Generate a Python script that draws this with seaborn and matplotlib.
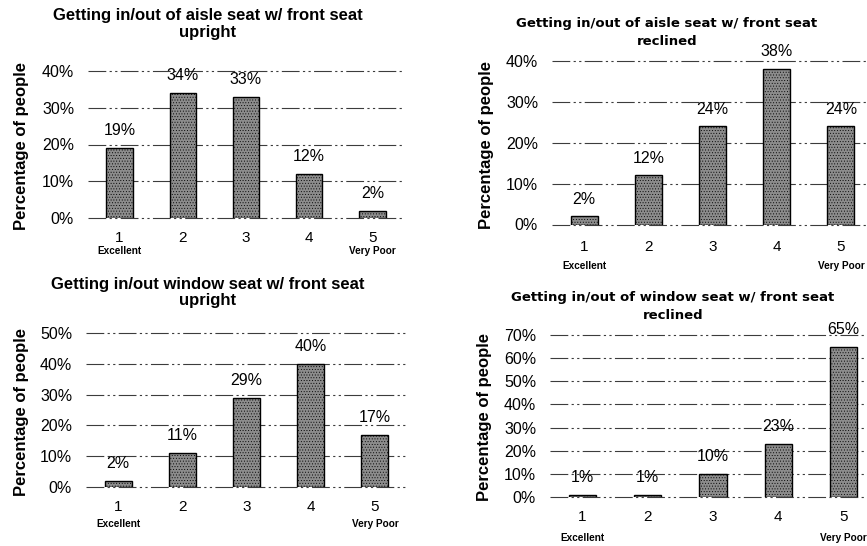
import matplotlib
matplotlib.use("Agg")
import matplotlib.pyplot as plt
import pandas as pd
import seaborn as sns

# Survey ratings: 1 = Excellent ... 5 = Very Poor
categories = ["1", "2", "3", "4", "5"]
aisle_upright = [19, 34, 33, 12, 2]
aisle_reclined = [2, 12, 24, 38, 24]
window_upright = [2, 11, 29, 40, 17]
window_reclined = [1, 1, 10, 23, 65]

sns.set_theme(style="white")
plt.rcParams["font.family"] = ["Liberation Sans", "DejaVu Sans"]
plt.rcParams["hatch.linewidth"] = 0.35
for key in ("text.color", "axes.labelcolor", "xtick.color", "ytick.color"):
    plt.rcParams[key] = "black"

W, H = 867, 546
fig = plt.figure(figsize=(W / 100, H / 100), dpi=100)


def px_rect(left, right, top, bottom):
    return [left / W, 1 - bottom / H, (right - left) / W, (bottom - top) / H]


panels = [
    dict(values=aisle_upright, ymax=40, rect=(88, 404, 71, 218),
         title=["Getting in/out of aisle seat w/ front seat", "upright"],
         title_xy=(208, 20, 37), title_font=dict(family="Liberation Sans", size=12),
         ylab_xy=(22, 146), xpad=20, note_off=33),
    dict(values=aisle_reclined, ymax=40, rect=(552, 873, 61, 224.5),
         title=["Getting in/out of aisle seat w/ front seat", "reclined"],
         title_xy=(667, 27, 45), title_font=dict(family="DejaVu Sans", size=9.5),
         ylab_xy=(486, 145), xpad=22.5, note_off=41.5),
    dict(values=window_upright, ymax=50, rect=(86, 407, 333, 487),
         title=["Getting in/out window seat w/ front seat", "upright"],
         title_xy=(208, 289, 305), title_font=dict(family="Liberation Sans", size=12),
         ylab_xy=(22, 412), xpad=20, note_off=37),
    dict(values=window_reclined, ymax=70, rect=(550, 876, 335, 497),
         title=["Getting in/out of window seat w/ front seat", "reclined"],
         title_xy=(673, 301, 319), title_font=dict(family="DejaVu Sans", size=9.5),
         ylab_xy=(485, 417), xpad=20, note_off=41),
]

for p in panels:
    ax = fig.add_axes(px_rect(*p["rect"]))
    df = pd.DataFrame({"rating": categories, "pct": p["values"]})
    sns.barplot(data=df, x="rating", y="pct", ax=ax, color="#8c8c8c",
                saturation=1, width=0.42, edgecolor="black", linewidth=1.0,
                hatch="......", zorder=3, errorbar=None)
    ax.set_xlim(-0.5, 4.5)
    ax.set_ylim(0, p["ymax"])
    ticks = list(range(0, p["ymax"] + 1, 10))
    ax.set_yticks(ticks)
    ax.set_yticklabels([f"{t}%" for t in ticks])
    ax.yaxis.grid(True, color="#3c3c3c", linewidth=0.8,
                  linestyle=(0, (16, 3, 2, 3, 2, 3)))
    ax.xaxis.grid(False)
    ax.set_axisbelow(True)
    for gl in ax.get_ygridlines():
        gl.set_clip_on(False)
    for s in ax.spines.values():
        s.set_visible(False)
    ax.tick_params(axis="y", left=False, length=0, labelsize=11.5, pad=10)
    ax.tick_params(axis="x", bottom=False, length=0, labelsize=11,
                   pad=(p["xpad"] - 7) * 0.72)
    ax.set_xlabel("")
    ax.set_ylabel("")

    # value labels above each bar
    for bar, v in zip(ax.patches, p["values"]):
        ax.annotate(f"{v}%", (bar.get_x() + bar.get_width() / 2, v),
                    xytext=(0, 7), textcoords="offset points",
                    ha="center", va="bottom", fontsize=11.5)

    # scale anchors under the first and last rating
    for idx, txt in [(0, "Excellent"), (4, "Very Poor")]:
        ax.annotate(txt, (idx, 0), xycoords=("data", "axes fraction"),
                    xytext=(0, -p["note_off"] * 0.72), textcoords="offset points",
                    ha="center", va="center", fontsize=7.2, fontweight="bold",
                    annotation_clip=False)

    tx, ty1, ty2 = p["title_xy"]
    for line, ty in zip(p["title"], (ty1, ty2)):
        fig.text(tx / W, 1 - ty / H, line, ha="center", va="baseline",
                 fontweight="bold", fontfamily=p["title_font"]["family"],
                 fontsize=p["title_font"]["size"])

    lx, ly = p["ylab_xy"]
    fig.text(lx / W, 1 - ly / H, "Percentage of people", rotation=90,
             ha="center", va="center", fontsize=12, fontweight="bold")

fig.savefig("out.png", dpi=100, facecolor="white")
